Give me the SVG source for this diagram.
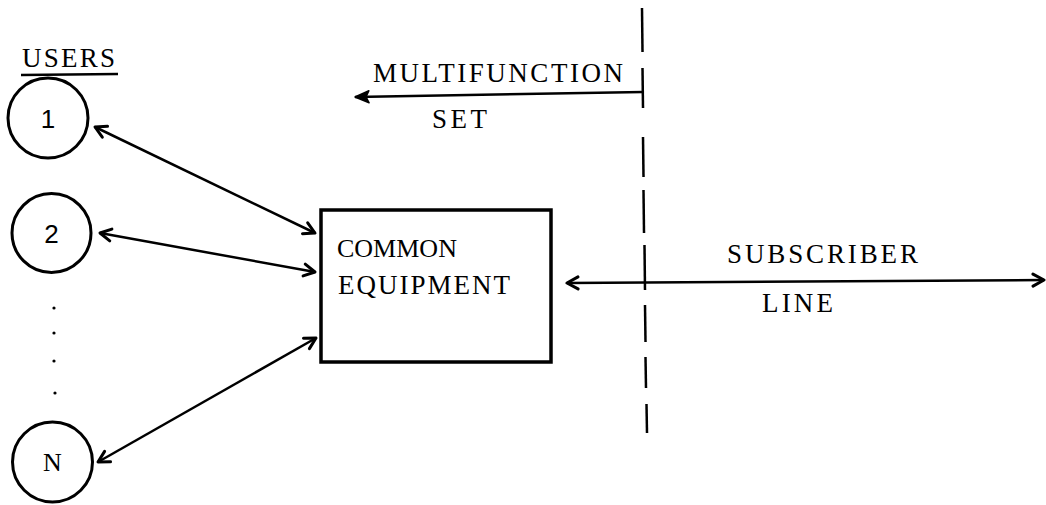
<svg xmlns="http://www.w3.org/2000/svg" width="1046" height="505" viewBox="0 0 1046 505">
  <defs>
    <style>
      .lbl { font-family: "Liberation Serif", "Times New Roman", serif; font-size: 27px; fill: #000; }
      .lbl.tight { font-size: 26px; }
      .num { font-family: "Liberation Sans", Arial, sans-serif; font-size: 26px; fill: #000; text-anchor: middle; }
      .numN { font-family: "Liberation Serif", "Times New Roman", serif; font-size: 26px; fill: #000; text-anchor: middle; }
      .user { fill: #fff; stroke: #000; stroke-width: 3; }
      .box { fill: #fff; stroke: #000; stroke-width: 3.5; }
      .wire { fill: none; stroke: #000; stroke-width: 2.5; }
      .dash { fill: none; stroke: #000; stroke-width: 2.5; }
    </style>
    <!-- open chevron head used on both ends of the two-way links -->
    <marker id="head" viewBox="0 0 16 16" refX="14" refY="8" markerWidth="16" markerHeight="16" markerUnits="userSpaceOnUse" orient="auto-start-reverse">
      <path d="M3,2 L14,8 L3,14" fill="none" stroke="#000" stroke-width="3" stroke-linecap="round" stroke-linejoin="round"/>
    </marker>
    <!-- solid head for the one-way pointer -->
    <marker id="solid" viewBox="0 0 16 16" refX="15" refY="8" markerWidth="16" markerHeight="16" markerUnits="userSpaceOnUse" orient="auto">
      <path d="M1,2 L15,8 L1,14 L4,8 Z" fill="#000" stroke="#000" stroke-width="1.5" stroke-linejoin="round"/>
    </marker>
  </defs>

  <rect width="1046" height="505" fill="#fff"/>

  <!-- boundary between the set and the line -->
  <g id="boundary">
    <line class="dash" x1="642" y1="8" x2="642.5" y2="52"/>
    <line class="dash" x1="642.5" y1="68" x2="643" y2="108"/>
    <line class="dash" x1="643" y1="137" x2="643.5" y2="177"/>
    <line class="dash" x1="643.5" y1="190" x2="644" y2="233"/>
    <line class="dash" x1="644.5" y1="245" x2="645" y2="290"/>
    <line class="dash" x1="645" y1="305" x2="645.5" y2="342"/>
    <line class="dash" x1="645.5" y1="357" x2="646" y2="388"/>
    <line class="dash" x1="646.5" y1="404" x2="647" y2="433"/>
  </g>

  <g id="users-title">
    <text class="lbl" x="22" y="67" textLength="93" lengthAdjust="spacing">USERS</text>
    <line x1="21" y1="75" x2="118" y2="74" stroke="#000" stroke-width="2.5"/>
  </g>

  <g id="user-1">
    <circle class="user" cx="48" cy="118" r="40"/>
    <text class="num" x="48" y="128">1</text>
  </g>
  <g id="user-2">
    <circle class="user" cx="51.5" cy="233" r="39.5"/>
    <text class="num" x="51.5" y="243">2</text>
  </g>
  <g id="ellipsis">
    <circle cx="54" cy="308" r="1.6" fill="#000"/>
    <circle cx="54" cy="333" r="1.6" fill="#000"/>
    <circle cx="54" cy="361" r="1.6" fill="#000"/>
    <circle cx="55" cy="393" r="1.6" fill="#000"/>
  </g>
  <g id="user-n">
    <circle class="user" cx="52.5" cy="462" r="40"/>
    <text class="numN" x="52.5" y="471">N</text>
  </g>

  <g id="common-equipment">
    <rect class="box" x="321" y="210" width="230" height="152"/>
    <text class="lbl tight" x="337" y="257">COMMON</text>
    <text class="lbl" x="338" y="294" textLength="172" lengthAdjust="spacing">EQUIPMENT</text>
  </g>

  <g id="multifunction-set">
    <text class="lbl" x="373" y="82" textLength="250" lengthAdjust="spacing">MULTIFUNCTION</text>
    <text class="lbl" x="432" y="128" textLength="55" lengthAdjust="spacing">SET</text>
  </g>

  <g id="subscriber-line">
    <text class="lbl" x="727" y="263" textLength="191" lengthAdjust="spacing">SUBSCRIBER</text>
    <text class="lbl" x="762" y="312" textLength="71" lengthAdjust="spacing">LINE</text>
  </g>

  <g id="connectors">
    <line class="wire" x1="95" y1="127" x2="315" y2="233" marker-start="url(#head)" marker-end="url(#head)"/>
    <line class="wire" x1="100" y1="233" x2="315" y2="272" marker-start="url(#head)" marker-end="url(#head)"/>
    <line class="wire" x1="98" y1="462" x2="316" y2="338" marker-start="url(#head)" marker-end="url(#head)"/>
    <line class="wire" x1="567" y1="283" x2="1044" y2="280" marker-start="url(#head)" marker-end="url(#head)"/>
    <line class="wire" x1="643" y1="92" x2="355" y2="97" marker-end="url(#solid)"/>
  </g>
</svg>
